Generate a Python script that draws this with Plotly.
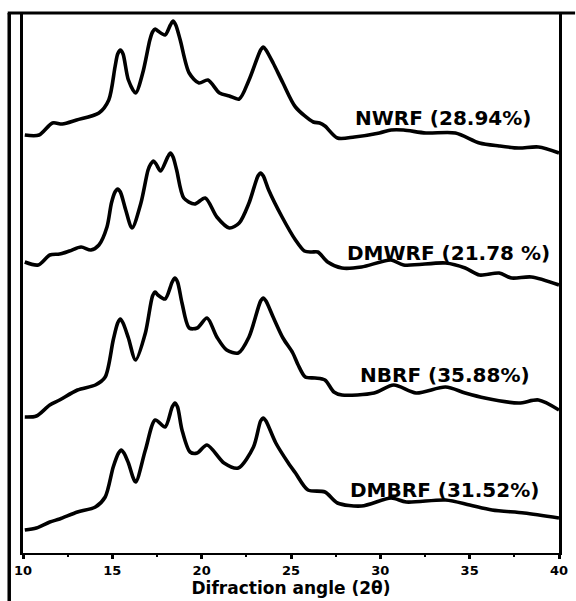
import plotly.graph_objects as go

# ---- data (2-theta in degrees, intensity in arbitrary stacked units) ----
nwrf_x = [10.1, 10.9, 11.65, 12.2, 13.0, 14.25, 14.8, 15.15, 15.3, 15.45, 15.6, 15.9, 16.3, 16.7,
          17.1, 17.25, 17.4, 17.55, 17.95, 18.25, 18.4, 18.55, 18.8, 19.3, 19.85, 20.35, 21.0,
          21.55, 22.1, 22.65, 23.3, 23.45, 23.6, 24.0, 24.55, 25.25, 26.25, 26.6, 26.9, 27.6,
          28.55, 29.95, 30.6, 31.3, 32.55, 34.2, 35.55, 36.65, 37.75, 38.85, 40.0]
nwrf_y = [418, 418, 430, 429, 433, 440, 453, 486, 499, 503, 499, 473, 460, 480,
          513, 521, 524, 522, 518, 528, 532, 528, 513, 480, 470, 473, 460,
          457, 454, 473, 503, 506, 503, 490, 470, 446, 431, 430, 427, 415,
          416, 420, 423, 423, 420, 420, 410, 407, 405, 406, 400]

dmwrf_x = [10.1, 10.85, 11.5, 12.05, 12.6, 13.25, 13.8, 14.25, 14.7, 14.95, 15.15, 15.3, 15.45,
           15.75, 16.1, 16.6, 17.0, 17.15, 17.3, 17.45, 17.7, 18.1, 18.25, 18.4, 18.6, 19.0,
           19.6, 20.2, 20.85, 21.55, 22.1, 22.65, 23.15, 23.3, 23.45, 23.75, 24.5, 25.25, 25.75,
           26.15, 26.5, 27.05, 27.85, 28.95, 30.6, 31.3, 33.65, 34.75, 35.55, 36.65, 37.35,
           38.45, 40.0]
dmwrf_y = [291, 288, 298, 299, 302, 306, 303, 308, 326, 350, 361, 364, 361,
           343, 325, 350, 383, 389, 392, 389, 382, 396, 400, 396, 383, 355,
           349, 355, 336, 325, 330, 350, 377, 380, 377, 363, 336, 313, 302,
           301, 301, 291, 285, 286, 293, 288, 290, 285, 278, 280, 275,
           276, 268]

nbrf_x = [10.1, 10.75, 11.5, 12.05, 13.05, 14.05, 14.6, 15.05, 15.3, 15.45, 15.6, 15.9, 16.3,
          16.85, 17.25, 17.4, 17.55, 17.95, 18.35, 18.5, 18.65, 18.9, 19.3, 19.75, 20.3, 20.85,
          21.4, 22.05, 22.65, 23.3, 23.45, 23.6, 24.0, 24.55, 25.1, 25.4, 25.8, 26.35, 26.9,
          27.4, 27.85, 29.65, 30.75, 32.0, 33.65, 34.75, 35.85, 37.75, 38.85, 40.0]
nbrf_y = [136, 137, 148, 153, 163, 168, 176, 213, 230, 234, 230, 215, 193,
          220, 257, 261, 258, 254, 271, 275, 271, 250, 225, 225, 235, 216,
          203, 200, 216, 252, 255, 252, 236, 215, 200, 188, 176, 175, 173,
          161, 158, 160, 168, 160, 166, 160, 155, 150, 153, 143]

dmbrf_x = [10.1, 10.75, 11.5, 12.05, 13.05, 14.05, 14.6, 15.05, 15.35, 15.5, 15.65, 15.9, 16.3,
           16.85, 17.4, 17.95, 18.35, 18.5, 18.65, 18.9, 19.35, 19.75, 20.3, 21.25, 22.05, 22.9,
           23.3, 23.45, 23.6, 24.15, 24.85, 25.25, 25.95, 26.9, 27.6, 28.95, 30.6, 31.45, 33.65,
           35.0, 36.25, 38.05, 40.0]
dmbrf_y = [23, 25, 31, 34, 41, 46, 56, 86, 100, 103, 100, 90, 71,
           103, 133, 126, 146, 150, 146, 123, 101, 100, 108, 90, 85, 106,
           132, 135, 132, 110, 90, 80, 63, 61, 50, 47, 55, 51, 53,
           48, 43, 40, 35]

series_names = ["NWRF (28.94%)", "DMWRF (21.78 %)", "NBRF (35.88%)", "DMBRF (31.52%)"]
label_x = [33.5, 33.8, 33.6, 33.6]
label_y = [435, 300, 178, 63]

tick_vals = [10, 15, 20, 25, 30, 35, 40]
tick_text = ["10", "15", "20", "25", "30", "35", "40"]
x_title = "Difraction angle (2θ)"

# ---- figure ----
fig = go.Figure()
for xs, ys, nm in zip([nwrf_x, dmwrf_x, nbrf_x, dmbrf_x],
                      [nwrf_y, dmwrf_y, nbrf_y, dmbrf_y], series_names):
    fig.add_trace(go.Scatter(x=xs, y=ys, mode="lines", name=nm,
                             line=dict(color="black", width=3.6, shape="spline", smoothing=0.8),
                             showlegend=False, hoverinfo="skip"))

for nm, lx, ly in zip(series_names, label_x, label_y):
    fig.add_annotation(x=lx, y=ly, text=nm, showarrow=False, xanchor="center", yanchor="middle",
                       font=dict(family="DejaVu Sans", size=20, color="black", weight="bold"))

# frame lines extending outside the plot (top border and outer left border)
fig.add_shape(type="line", xref="paper", yref="paper", x0=-0.0285, x1=1.03, y0=1.0, y1=1.0,
              line=dict(color="black", width=3))
fig.add_shape(type="line", xref="paper", yref="paper", x0=-0.0257, x1=-0.0257, y0=1.0, y1=-0.1,
              line=dict(color="black", width=3.5))

fig.update_layout(
    width=576, height=601,
    margin=dict(l=23, r=8, t=13, b=48),
    paper_bgcolor="white", plot_bgcolor="white",
    xaxis=dict(range=[10, 40], showgrid=False, zeroline=False, showline=True,
               linecolor="black", linewidth=2, mirror=False,
               tickmode="array", tickvals=tick_vals, ticktext=tick_text,
               ticks="outside", ticklen=4, tickwidth=2.5, tickcolor="black",
               minor=dict(dtick=2.5, tick0=10, ticks="outside", ticklen=2, tickwidth=2,
                          tickcolor="black", showgrid=False),
               tickfont=dict(family="DejaVu Sans", size=13, color="black", weight="bold"),
               title=dict(text=x_title, standoff=0,
                          font=dict(family="DejaVu Sans", size=17, color="black", weight="bold"))),
    yaxis=dict(range=[0, 540], showgrid=False, zeroline=False, showline=True,
               linecolor="black", linewidth=2.5, mirror=True, showticklabels=False, ticks=""),
)

fig.write_html("out.html")
